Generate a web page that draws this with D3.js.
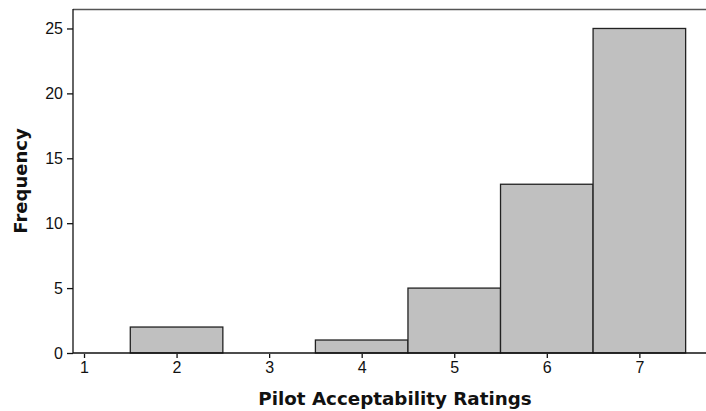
<!DOCTYPE html>
<html>
<head>
<meta charset="utf-8">
<script src="https://cdn.jsdelivr.net/npm/d3@7"></script>
<style>
  body { margin: 0; background: #fff; }
  svg { display: block; }
  text { font-family: "DejaVu Sans", Verdana, sans-serif; fill: #111; }
  .tick text { font-family: "Liberation Sans", Arial, sans-serif; font-size: 16px; }
</style>
</head>
<body>
<script>
// rating categories and counts
var ratings = [1, 2, 3, 4, 5, 6, 7];
var counts  = [0, 2, 0, 1, 5, 13, 25];
var yTicks  = [0, 5, 10, 15, 20, 25];

var width = 706, height = 411;
var mLeft = 73, mRight = 706, mTop = 9, mBottom = 353;

var svg = d3.select("body").append("svg")
  .attr("width", width)
  .attr("height", height);

var x = d3.scaleLinear().domain([0.881, 7.72]).range([mLeft, mRight]);
var y = d3.scaleLinear().domain([0, 26.5]).range([mBottom, mTop]);

// bars (bin width 1 centred on rating)
svg.append("g").selectAll("rect")
  .data(ratings.map(function(r, i) { return {r: r, n: counts[i]}; }).filter(function(d) { return d.n > 0; }))
  .enter().append("rect")
    .attr("x", function(d) { return x(d.r - 0.5); })
    .attr("y", function(d) { return y(d.n); })
    .attr("width", function(d) { return x(d.r + 0.5) - x(d.r - 0.5); })
    .attr("height", function(d) { return y(0) - y(d.n); })
    .attr("fill", "#c0c0c0")
    .attr("stroke", "#222")
    .attr("stroke-width", 1.3);

// top border
svg.append("line")
  .attr("x1", mLeft).attr("x2", mRight)
  .attr("y1", mTop + 0.5).attr("y2", mTop + 0.5)
  .attr("stroke", "#555").attr("stroke-width", 1.3);

// y axis
var yAxis = svg.append("g")
  .attr("transform", "translate(" + mLeft + ",0)")
  .call(d3.axisLeft(y).tickValues(yTicks).tickSize(6).tickPadding(4).tickSizeOuter(0));
yAxis.attr("font-size", null).attr("font-family", null);
yAxis.select(".domain").attr("stroke", "#111").attr("stroke-width", 1.3)
  .attr("d", "M0," + mTop + "V" + mBottom);
yAxis.selectAll(".tick line").attr("stroke", "#111").attr("stroke-width", 1.3);
yAxis.selectAll("text").attr("fill", "#111");

// x axis
var xAxis = svg.append("g")
  .attr("transform", "translate(0," + mBottom + ")")
  .call(d3.axisBottom(x).tickValues(ratings).tickFormat(d3.format("d")).tickSize(5).tickPadding(4).tickSizeOuter(0));
xAxis.attr("font-size", null).attr("font-family", null);
xAxis.select(".domain").attr("stroke", "#111").attr("stroke-width", 1.3)
  .attr("d", "M" + mLeft + ",0H" + mRight);
xAxis.selectAll(".tick line").attr("stroke", "#111").attr("stroke-width", 1.3).attr("y1", 1);
xAxis.selectAll("text").attr("fill", "#111");

// axis titles
svg.append("text")
  .attr("x", 395).attr("y", 405)
  .attr("text-anchor", "middle")
  .style("font-size", "18.3px").style("font-weight", "bold")
  .text("Pilot Acceptability Ratings");

svg.append("text")
  .attr("transform", "translate(27,181) rotate(-90)")
  .attr("text-anchor", "middle")
  .style("font-size", "18px").style("font-weight", "bold")
  .text("Frequency");
</script>
</body>
</html>
